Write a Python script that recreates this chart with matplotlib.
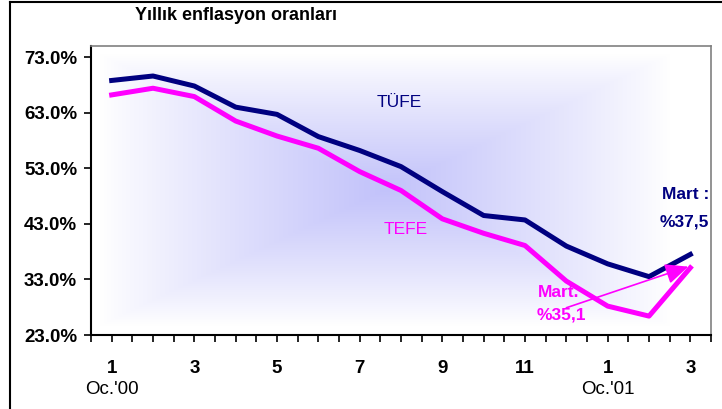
import numpy as np
import matplotlib.pyplot as plt
from matplotlib.lines import Line2D

plt.rcParams['font.family'] = ['Liberation Sans', 'DejaVu Sans']

# data: monthly annual inflation, Jan 2000 .. Mar 2001
months = ['1', '2', '3', '4', '5', '6', '7', '8', '9', '10', '11', '12', '1', '2', '3']
tufe = [68.8, 69.6, 67.8, 64.0, 62.7, 58.7, 56.2, 53.3, 48.8, 44.5, 43.7, 39.0, 35.8, 33.5, 37.5]
tefe = [66.2, 67.4, 65.9, 61.5, 58.8, 56.6, 52.4, 49.0, 43.9, 41.3, 39.1, 32.7, 28.2, 26.4, 35.1]
yticks = [23, 33, 43, 53, 63, 73]

navy = '#000080'
pink = '#FF00FF'

fig = plt.figure(figsize=(7.22, 4.09), dpi=100)
ax = fig.add_axes([91/722, 1-335/409, 620/722, 289/409])

# background gradient (rectangular, from center)
gx, gy = np.meshgrid(np.linspace(0, 1, 400), np.linspace(1, 0, 200))
cx, cy = (385-91)/620, (335-190)/289
t = np.maximum(np.abs(gx-cx)/0.46, np.abs(gy-cy)/0.47)
t = np.clip(t, 0, 1)
w = (1-t)**0.9
c0 = np.array([1.0, 1.0, 1.0])
c1 = np.array([194, 194, 250])/255
img = c0 + w[..., None]*(c1-c0)
ax.imshow(img, extent=[0, 1, 0, 1], transform=ax.transAxes, aspect='auto', zorder=0, interpolation='bilinear')

x = np.arange(len(months))
ax.plot(x, tufe, color=navy, lw=3.6, zorder=3)
ax.plot(x, tefe, color=pink, lw=3.6, zorder=3)

ax.set_xlim(-0.5, len(months)-0.5)
ax.set_ylim(23, 75)
ax.set_yticks(yticks)
ax.set_yticklabels([f'{v:.1f}%' for v in yticks], fontsize=13.5, fontweight='bold')
ax.set_xticks(x)
ax.set_xticklabels([m if i % 2 == 0 else '' for i, m in enumerate(months)], fontsize=13.5, fontweight='bold')
ax.set_xticks(np.arange(-0.5, len(months), 1), minor=True)
ax.tick_params(axis='x', which='both', length=5, width=1.2, direction='out', pad=13)
ax.tick_params(axis='y', length=5, width=1.2, direction='out', pad=5)

for s in ['left', 'bottom']:
    ax.spines[s].set_linewidth(1.5)
    ax.spines[s].set_color('black')
for s in ['top', 'right']:
    ax.spines[s].set_linewidth(1.2)
    ax.spines[s].set_color('#808080')

# year labels under the month numbers
ax.text(0, -0.19, "Oc.'00", transform=ax.get_xaxis_transform(), ha='center', va='center', fontsize=13.5)
ax.text(12, -0.19, "Oc.'01", transform=ax.get_xaxis_transform(), ha='center', va='center', fontsize=13.5)

ax.text(6.42, 64.9, 'TÜFE', color=navy, fontsize=12.5, ha='left', va='center')
ax.text(6.57, 41.9, 'TEFE', color=pink, fontsize=12.5, ha='left', va='center')
ax.text(14.45, 48.2, 'Mart :', color=navy, fontsize=12.5, fontweight='bold', ha='right', va='center')
ax.text(14.45, 43.3, '%37,5', color=navy, fontsize=12.5, fontweight='bold', ha='right', va='center')
ax.text(10.32, 30.7, 'Mart.', color=pink, fontsize=12.5, fontweight='bold', ha='left', va='center')
ax.text(10.27, 26.6, '%35,1', color=pink, fontsize=12.5, fontweight='bold', ha='left', va='center')

ax.annotate('', xy=(13.95, 35.3), xytext=(11.0, 27.9),
            arrowprops=dict(arrowstyle='-|>,head_length=1.0,head_width=0.45', mutation_scale=14,
                            color=pink, lw=1.2, shrinkA=0, shrinkB=0), zorder=4)

fig.text(135/722, 1-16/409, 'Yıllık enflasyon oranları', fontsize=13, fontweight='bold', ha='left', va='center')

# outer frame (left and top edges)
fig.add_artist(Line2D([10/722, 10/722], [0, 1-2/409], color='black', lw=1.5, transform=fig.transFigure))
fig.add_artist(Line2D([10/722, 1], [1-2/409, 1-2/409], color='black', lw=1.5, transform=fig.transFigure))

fig.savefig('out.png', dpi=100)
